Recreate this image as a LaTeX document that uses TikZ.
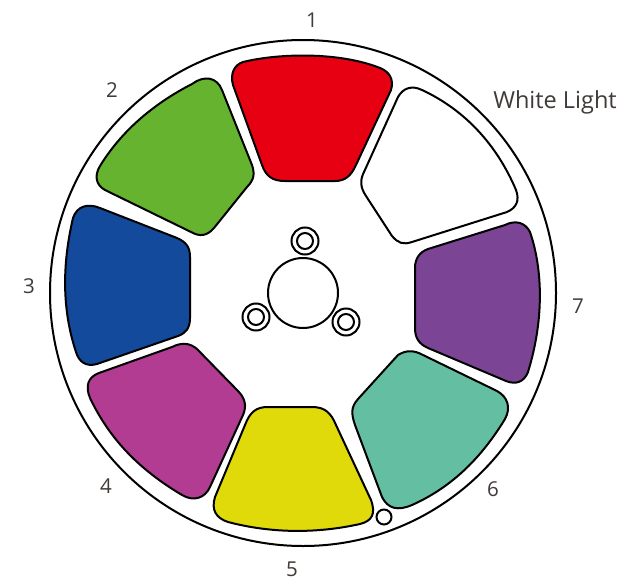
\documentclass[tikz,border=0pt]{standalone}
\usepackage{fontspec}
\setmainfont{Open Sans}
\definecolor{cred}{HTML}{E60012}
\definecolor{cgreen}{HTML}{65B32E}
\definecolor{cblue}{HTML}{134A9C}
\definecolor{cmag}{HTML}{B13C92}
\definecolor{cyel}{HTML}{E1DA0B}
\definecolor{cteal}{HTML}{64BFA2}
\definecolor{cpur}{HTML}{7C4494}
\definecolor{ctext}{HTML}{403A38}
\tikzset{
  seg/.style={draw=black,line width=2pt,line join=round},
  ring/.style={circle,draw=black,line width=2pt,fill=white,inner sep=0pt,minimum size=#1},
  num/.style={text=ctext,font=\fontsize{20.5}{25}\selectfont,inner sep=0pt}
}
\begin{document}
\begin{tikzpicture}[x=1pt,y=-1pt]
\useasboundingbox (0,0) rectangle (626,583);
\fill[white] (0,0) rectangle (626,583);
\node[ring=506pt] (outer) at (303,293) {};
% red
\path[seg,fill=cred] (243,62) .. controls (280,53) and (340,52) .. (380,68) .. controls (390,72) and (394,80) .. (391,90) -- (356,165) .. controls (351,176) and (345,181) .. (335,181) -- (285,181) .. controls (272,181) and (266,176) .. (262,165) -- (233,85) .. controls (230,74) and (234,65) .. (243,62) -- cycle;
% white
\path[seg,fill=white] (398,97) .. controls (403,88) and (412,85) .. (422,90) .. controls (465,110) and (497,145) .. (516,190) .. controls (520,201) and (516,208) .. (507,212) -- (412,242) .. controls (403,245) and (398,243) .. (392,236) -- (366,196) .. controls (360,187) and (360,180) .. (364,172) -- cycle;
% purple
\path[seg,fill=cpur] (505,225) .. controls (515,220) and (525,222) .. (530,232) .. controls (543,270) and (544,320) .. (528,372) .. controls (524,382) and (516,385) .. (506,381) -- (428,348) .. controls (419,344) and (415,338) .. (415,328) -- (415,268) .. controls (415,258) and (420,252) .. (428,249) -- cycle;
% teal
\path[seg,fill=cteal] (398,355) .. controls (406,350) and (414,350) .. (423,355) -- (497,391) .. controls (508,397) and (511,408) .. (505,419) .. controls (480,460) and (450,488) .. (412,505) .. controls (398,511) and (388,509) .. (382,497) -- (355,425) .. controls (351,413) and (351,407) .. (358,399) -- cycle;
% yellow
\path[seg,fill=cyel] (245,425) .. controls (250,412) and (256,407) .. (268,407) -- (312,407) .. controls (325,407) and (331,413) .. (336,425) -- (371,500) .. controls (376,514) and (372,521) .. (360,524) .. controls (315,534) and (270,533) .. (228,522) .. controls (216,518) and (211,510) .. (215,497) -- cycle;
% magenta
\path[seg,fill=cmag] (172,347) .. controls (182,342) and (190,343) .. (197,349) -- (238,391) .. controls (245,398) and (247,406) .. (243,415) -- (210,487) .. controls (205,498) and (194,502) .. (182,495) .. controls (140,470) and (110,440) .. (90,398) .. controls (85,386) and (88,377) .. (99,373) -- cycle;
% blue
\path[seg,fill=cblue] (100,208) -- (177,238) .. controls (186,242) and (190,247) .. (190,257) -- (190,318) .. controls (190,328) and (186,333) .. (178,336) -- (97,364) .. controls (86,367) and (79,362) .. (76,352) .. controls (62,310) and (62,265) .. (73,218) .. controls (77,206) and (88,203) .. (100,208) -- cycle;
% green
\path[seg,fill=cgreen] (192,84) .. controls (204,75) and (217,77) .. (222,90) -- (252,165) .. controls (255,174) and (254,180) .. (247,187) -- (214,228) .. controls (207,236) and (200,237) .. (191,232) -- (105,190) .. controls (96,185) and (94,176) .. (100,166) .. controls (122,130) and (155,103) .. (192,84) -- cycle;
% hub
\node[ring=70pt] (hub) at (303,293) {};
\node[ring=27pt] (b1o) at (305,241) {};
\node[ring=16pt] (b1i) at (305,241) {};
\node[ring=27pt] (b2o) at (256,317) {};
\node[ring=16pt] (b2i) at (256,317) {};
\node[ring=27pt] (b3o) at (346,322) {};
\node[ring=16pt] (b3i) at (346,322) {};
\node[ring=15pt] (mark) at (384,517) {};
% labels
\node[num] (n1) at (312,20) {1};
\node[num] (n2) at (112,90) {2};
\node[num] (n3) at (29,286) {3};
\node[num] (n4) at (106,486) {4};
\node[num] (n5) at (292,569) {5};
\node[num] (n6) at (493,489) {6};
\node[num] (n7) at (578,306) {7};
\node[num,font=\fontsize{23.5}{28}\selectfont] (wl) at (555,102) {White Light};
\end{tikzpicture}
\end{document}
